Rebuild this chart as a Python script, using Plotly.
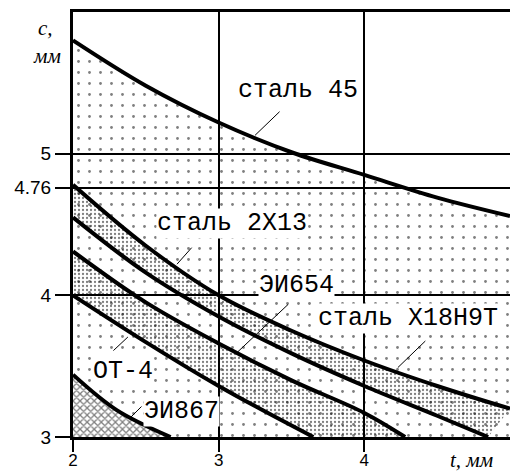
import plotly.graph_objects as go

# ---- data (t, mm  ->  c, mm) ----
t_st45 = [2.0, 2.5, 3.0, 3.5, 4.0, 4.5, 5.0]
c_st45 = [5.80, 5.48, 5.22, 5.01, 4.85, 4.69, 4.56]

t_upper1 = [2.0, 2.5, 3.0, 3.5, 4.0, 4.5, 5.0]
c_upper1 = [4.78, 4.35, 4.00, 3.75, 3.54, 3.36, 3.20]

t_lower1 = [2.0, 2.5, 3.0, 3.5, 4.0, 4.5, 4.85]
c_lower1 = [4.55, 4.16, 3.85, 3.59, 3.36, 3.15, 3.00]

t_upper2 = [2.0, 2.5, 3.0, 3.5, 4.0, 4.28]
c_upper2 = [4.31, 3.95, 3.66, 3.40, 3.17, 3.00]

t_ot4 = [2.0, 2.5, 3.0, 3.3, 3.65]
c_ot4 = [4.00, 3.67, 3.36, 3.19, 3.00]

t_ei867 = [2.0, 2.3, 2.67]
c_ei867 = [3.44, 3.19, 3.00]

x_ticks = [2, 3, 4]
y_ticks = [3, 4, 4.76, 5]
y_ticktext = ["3", "4", "4.76", "5"]

# labels: text, (t, c) centre
labels = [
    ("сталь 45", 3.544, 5.449),
    ("сталь 2X13", 3.091, 4.510),
    ("ЭИ654", 3.537, 4.066),
    ("сталь X18H9T", 4.299, 3.840),
    ("ОТ-4", 2.343, 3.459),
    ("ЭИ867", 2.748, 3.183),
]
# leaders: tip (t, c) and tail offset in px
leaders = [
    (3.25, 5.13, 26, -25),
    (2.714, 4.22, 16, -18),
    (3.13, 3.60, 52, -49),
    (4.23, 3.49, 29, -28),
    (2.377, 3.706, -16, 15),
    (2.398, 3.141, 12, -12),
]

sparse = dict(shape=".", size=11, solidity=0.05, fgcolor="black", bgcolor="rgba(0,0,0,0)")
dense = dict(shape=".", size=4, solidity=0.25, fgcolor="black", bgcolor="rgba(0,0,0,0)")
hatch = dict(shape="x", size=5, solidity=0.45, fgcolor="black", bgcolor="white")

line = dict(color="black", width=4, shape="spline")
fig = go.Figure()
fig.add_trace(go.Scatter(x=t_st45, y=c_st45, mode="lines", line=line,
                         fill="tozeroy", fillcolor="rgba(0,0,0,0)", fillpattern=sparse))
fig.add_trace(go.Scatter(x=t_lower1, y=c_lower1, mode="lines", line=line))
fig.add_trace(go.Scatter(x=t_upper1, y=c_upper1, mode="lines", line=line,
                         fill="tonexty", fillcolor="rgba(0,0,0,0)", fillpattern=dense))
fig.add_trace(go.Scatter(x=t_ot4, y=c_ot4, mode="lines", line=line))
fig.add_trace(go.Scatter(x=t_upper2, y=c_upper2, mode="lines", line=line,
                         fill="tonexty", fillcolor="rgba(0,0,0,0)", fillpattern=dense))
fig.add_trace(go.Scatter(x=t_ei867, y=c_ei867, mode="lines", line=line,
                         fill="tozeroy", fillcolor="rgba(0,0,0,0)", fillpattern=hatch))

ann = []
for (tx, lt, lc) in labels:
    ann.append(dict(x=lt, y=lc, xref="x", yref="y", text=tx, showarrow=False,
                    font=dict(family="Liberation Mono", size=25, color="black"),
                    bgcolor="white", borderpad=0))
for (pt, pc, ax, ay) in leaders:
    ann.append(dict(x=pt, y=pc, xref="x", yref="y", text="", showarrow=True,
                    arrowhead=0, arrowwidth=1, arrowcolor="black", ax=ax, ay=ay,
                    standoff=0, startstandoff=0))
ax_font = dict(family="Liberation Serif", size=21, color="black")
ann += [
    dict(xref="paper", yref="paper", x=-0.062, y=0.962, xanchor="center", yanchor="middle",
         text="<i>c,</i>", showarrow=False, font=ax_font),
    dict(xref="paper", yref="paper", x=-0.059, y=0.896, xanchor="center", yanchor="middle",
         text="<i>мм</i>", showarrow=False, font=ax_font),
    dict(xref="paper", yref="paper", x=0.913, y=-0.055, xanchor="center", yanchor="middle",
         text="<i>t, мм</i>", showarrow=False, font=ax_font),
]

fig.update_layout(
    width=510, height=474,
    margin=dict(l=73, r=0, t=12, b=37, autoexpand=False),
    paper_bgcolor="white", plot_bgcolor="white",
    showlegend=False,
    annotations=ann,
    xaxis=dict(range=[2, 5], tickvals=x_ticks, ticks="outside", ticklen=12, tickwidth=2,
               tickcolor="black", showline=True, linewidth=3, linecolor="black", mirror=True,
               showgrid=True, gridcolor="black", gridwidth=2, zeroline=False, automargin=False,
               ticklabelstandoff=-6,
               tickfont=dict(family="Liberation Sans", size=17, color="black")),
    yaxis=dict(range=[3, 6], tickvals=y_ticks, ticktext=y_ticktext, ticks="outside", ticklen=15,
               tickwidth=2, tickcolor="black", showline=True, linewidth=3, linecolor="black",
               showgrid=True, gridcolor="black", gridwidth=2, zeroline=False, automargin=False,
               tickfont=dict(family="Liberation Sans", size=19, color="black")),
)
fig.write_html("out.html", config={"displayModeBar": False},
               post_script="document.body.style.margin='0';document.body.style.overflow='hidden';")
